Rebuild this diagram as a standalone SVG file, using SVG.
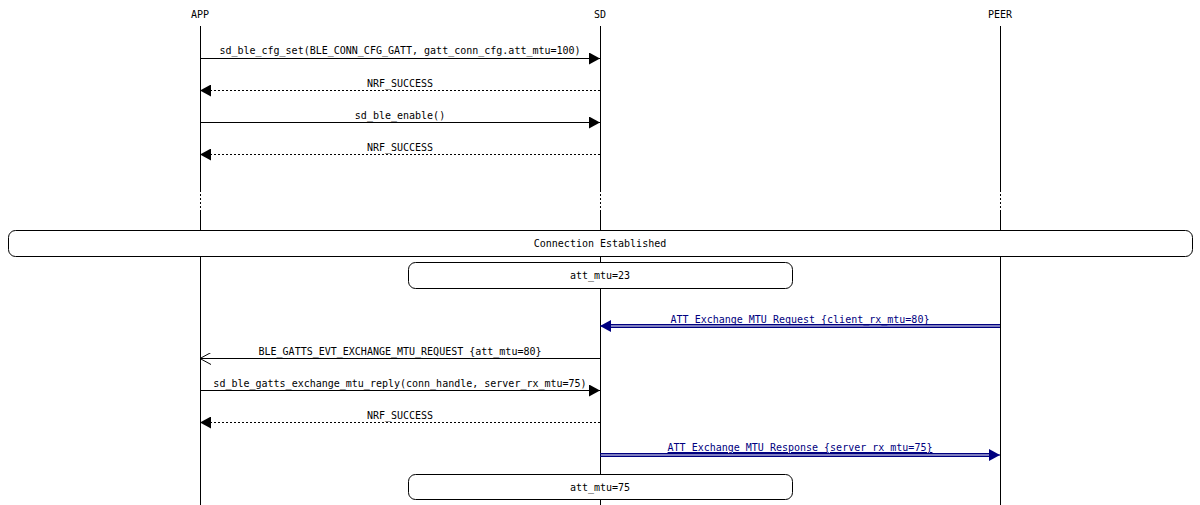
<svg xmlns="http://www.w3.org/2000/svg" width="1200" height="505" viewBox="0 0 1200 505">
<defs>
<style>
text{font-family:"DejaVu Sans Mono","Liberation Mono",monospace;font-size:10px;text-anchor:middle;fill:#000}
.l{stroke:#000;stroke-width:1;fill:none}
.d{stroke:#000;stroke-width:1;stroke-dasharray:2,2;fill:none}
.b{stroke:#000080;stroke-width:1;fill:none}
.bt{fill:#000080;text-decoration:underline}
.box{fill:#fff;stroke:#000;stroke-width:1}
</style>
<marker id="f" markerWidth="12" markerHeight="12" refX="11" refY="6" orient="auto" markerUnits="userSpaceOnUse"><path d="M0,0L11,6L0,12z" fill="#000"/></marker>
<marker id="fb" markerWidth="12" markerHeight="12" refX="11" refY="6" orient="auto" markerUnits="userSpaceOnUse"><path d="M0,0L11,6L0,12z" fill="#000080"/></marker>
<marker id="o" markerWidth="12" markerHeight="12" refX="11" refY="6" orient="auto" markerUnits="userSpaceOnUse"><path d="M0,0L11,6L0,12" fill="none" stroke="#000"/></marker>
</defs>
<g id="APP"><text x="200" y="18">APP</text><path class="l" d="M200.5,26V190M200.5,210V505"/><path class="d" d="M200.5,190V210"/></g>
<g id="SD"><text x="600" y="18">SD</text><path class="l" d="M600.5,26V190M600.5,210V505"/><path class="d" d="M600.5,190V210"/></g>
<g id="PEER"><text x="1000" y="18">PEER</text><path class="l" d="M1000.5,26V190M1000.5,210V505"/><path class="d" d="M1000.5,190V210"/></g>
<g id="connectors">
<path class="l" d="M200,58.5H600" marker-end="url(#f)"/><text x="400" y="54">sd_ble_cfg_set(BLE_CONN_CFG_GATT, gatt_conn_cfg.att_mtu=100)</text>
<path class="d" d="M600,90.5H200" marker-end="url(#f)"/><text x="400" y="87">NRF_SUCCESS</text>
<path class="l" d="M200,122.5H600" marker-end="url(#f)"/><text x="400" y="119">sd_ble_enable()</text>
<path class="d" d="M600,154.5H200" marker-end="url(#f)"/><text x="400" y="151">NRF_SUCCESS</text>
<path class="b" d="M1000,324.5H604M1000,327.5H604"/><path class="b" d="M1000,326H600" stroke="none" marker-end="url(#fb)"/><text class="bt" x="800" y="323">ATT Exchange MTU Request {client_rx_mtu=80}</text>
<path class="l" d="M600,358.5H200" marker-end="url(#o)"/><text x="400" y="355">BLE_GATTS_EVT_EXCHANGE_MTU_REQUEST {att_mtu=80}</text>
<path class="l" d="M200,390.5H600" marker-end="url(#f)"/><text x="400" y="387">sd_ble_gatts_exchange_mtu_reply(conn_handle, server_rx_mtu=75)</text>
<path class="d" d="M600,422.5H200" marker-end="url(#f)"/><text x="400" y="419">NRF_SUCCESS</text>
<path class="b" d="M600,453.5H996M600,456.5H996"/><path class="b" d="M600,455H1000" stroke="none" marker-end="url(#fb)"/><text class="bt" x="800" y="451">ATT Exchange MTU Response {server_rx_mtu=75}</text>
</g>
<g id="conn"><rect class="box" x="8.5" y="230.5" width="1184" height="26" rx="7"/><text x="600" y="247">Connection Established</text></g>
<g id="mtu23"><rect class="box" x="408.5" y="262.5" width="384" height="26" rx="7"/><text x="600" y="279">att_mtu=23</text></g>
<g id="mtu75"><rect class="box" x="408.5" y="474.5" width="384" height="25" rx="7"/><text x="600" y="491">att_mtu=75</text></g>
</svg>
